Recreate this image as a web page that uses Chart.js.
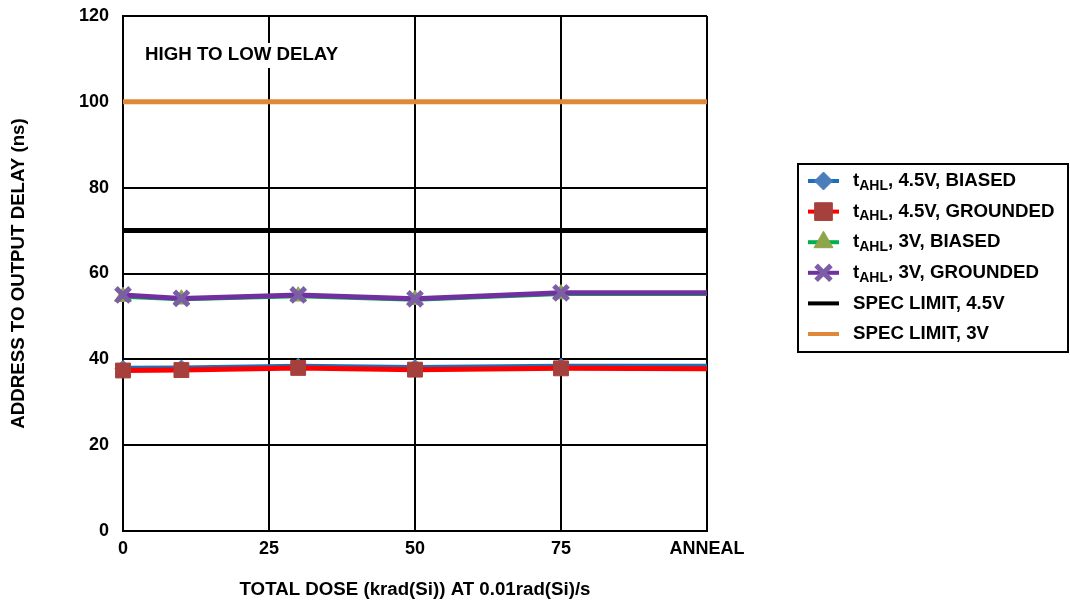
<!DOCTYPE html>
<html><head><meta charset="utf-8">
<script src="https://cdn.jsdelivr.net/npm/chart.js@4/dist/chart.umd.min.js"></script>
<style>html,body{margin:0;padding:0;background:#fff}#wrap{width:1070px;height:602px;position:relative}</style>
</head><body><div id="wrap"><canvas id="c" width="1070" height="602"></canvas></div>
<script>
const doses = [0, 10, 30, 50, 75, 100];
const xTickValues = [0, 25, 50, 75, 100];
const xTickLabels = ['0', '25', '50', '75', 'ANNEAL'];
const biased45 = [37.9, 38.0, 38.4, 38.1, 38.4, 38.4];
const grounded45 = [37.4, 37.5, 38.0, 37.6, 37.9, 37.8];
const biased3 = [54.6, 54.0, 54.7, 53.9, 55.2, 55.2];
const grounded3 = [55.0, 54.2, 55.0, 54.1, 55.5, 55.5];
const specX = [0, 100];
const specLimit45 = [70, 70];
const specLimit3 = [100, 100];
const seriesPrefix = ['t', 't', 't', 't', '', ''];
const seriesSub = ['AHL', 'AHL', 'AHL', 'AHL', '', ''];
const seriesNames = [', 4.5V, BIASED', ', 4.5V, GROUNDED', ', 3V, BIASED', ', 3V, GROUNDED', 'SPEC LIMIT, 4.5V', 'SPEC LIMIT, 3V'];
const annotationText = 'HIGH TO LOW DELAY';
const xTitle = 'TOTAL DOSE (krad(Si)) AT 0.01rad(Si)/s';
const yTitle = 'ADDRESS TO OUTPUT DELAY (ns)';

const FONT = '"Liberation Sans", Arial, sans-serif';
const FS = 18;
const FT = 18.7;
const pts = (ys) => doses.map((d, i) => ({x: d, y: ys[i]}));
const spec = (ys) => specX.map((d, i) => ({x: d, y: ys[i]}));
const radii = (r) => doses.map((d, i) => i === doses.length - 1 ? 0 : r);

const datasets = [
  {label: 'b45', data: pts(biased45), borderColor: '#1F6EB8', borderWidth: 5, pointStyle: 'rectRot', pointRadius: radii(8), pointBackgroundColor: '#4A7EBB', pointBorderColor: '#4A7EBB', pointBorderWidth: 1, order: 4, mk: {style: 'rectRot', r: 9, fill: '#4A7EBB', bw: 1}},
  {label: 'g45', data: pts(grounded45), borderColor: '#FF0000', borderWidth: 5, pointStyle: 'rect', pointRadius: radii(10.5), pointBackgroundColor: '#A5403C', pointBorderColor: '#A5403C', pointBorderWidth: 1, order: 3, mk: {style: 'rect', r: 12.5, fill: '#A5403C', bw: 1}},
  {label: 'b3', data: pts(biased3), borderColor: '#00B050', borderWidth: 4, pointStyle: 'triangle', pointRadius: radii(9.5), pointBackgroundColor: '#8DA64B', pointBorderColor: '#8DA64B', pointBorderWidth: 1, order: 2, mk: {style: 'triangle', r: 11, fill: '#8DA64B', bw: 1}},
  {label: 'g3', data: pts(grounded3), borderColor: '#7030A0', borderWidth: 5, pointStyle: 'crossRot', pointRadius: radii(10), pointBackgroundColor: '#7B5EA5', pointBorderColor: '#7B5EA5', pointBorderWidth: 5, order: 1, mk: {style: 'crossRot', r: 10.5, fill: '#7B5EA5', bw: 5}},
  {label: 's45', data: spec(specLimit45), borderColor: '#000000', borderWidth: 5, pointRadius: 0, order: 6},
  {label: 's3', data: spec(specLimit3), borderColor: '#E0873A', borderWidth: 5, pointRadius: 0, order: 5}
];
datasets.forEach(d => { d.clip = false; d.tension = 0; d.fill = false; });

const extras = {
  id: 'extras',
  beforeDatasetsDraw(chart) {
    const ctx = chart.ctx;
    ctx.save();
    ctx.font = 'bold ' + FT + 'px ' + FONT;
    const w = ctx.measureText(annotationText).width;
    ctx.fillStyle = '#fff';
    ctx.fillRect(137, 43, w + 16, 25);
    ctx.fillStyle = '#000';
    ctx.textBaseline = 'middle';
    ctx.textAlign = 'left';
    ctx.fillText(annotationText, 145, 55);
    ctx.restore();
  },
  afterDraw(chart) {
    const ctx = chart.ctx;
    ctx.save();
    ctx.textBaseline = 'middle';
    ctx.textAlign = 'left';
    ctx.lineWidth = 2;
    ctx.strokeStyle = '#000';
    ctx.strokeRect(798, 164, 270, 188);
    const y0 = 181, dy = 30.6;
    datasets.forEach((ds, i) => {
      const y = y0 + i * dy;
      ctx.beginPath();
      ctx.strokeStyle = ds.borderColor;
      ctx.lineWidth = 4;
      ctx.moveTo(808, y); ctx.lineTo(839, y); ctx.stroke();
      if (ds.mk) {
        const m = ds.mk;
        ctx.fillStyle = m.fill; ctx.strokeStyle = m.fill;
        ctx.lineWidth = m.bw;
        Chart.helpers.drawPoint(ctx, {pointStyle: m.style, radius: m.r, borderWidth: m.bw, rotation: 0}, 823.5, y);
      }
      ctx.fillStyle = '#000';
      let x = 853;
      ctx.font = 'bold ' + FT + 'px ' + FONT;
      if (seriesPrefix[i]) {
        ctx.fillText(seriesPrefix[i], x, y);
        x += ctx.measureText(seriesPrefix[i]).width;
        ctx.font = 'bold 14px ' + FONT;
        ctx.fillText(seriesSub[i], x, y + 5);
        x += ctx.measureText(seriesSub[i]).width;
        ctx.font = 'bold ' + FT + 'px ' + FONT;
      }
      ctx.fillText(seriesNames[i], x, y);
    });
    ctx.restore();
  }
};

new Chart(document.getElementById('c'), {
  type: 'line',
  data: {datasets},
  plugins: [extras],
  options: {
    responsive: false,
    animation: false,
    events: [],
    layout: {padding: {top: 16, right: 363, left: 0, bottom: 0}},
    plugins: {legend: {display: false}, tooltip: {enabled: false}},
    scales: {
      x: {
        type: 'linear', min: 0, max: 100,
        afterBuildTicks: (s) => { s.ticks = xTickValues.map(v => ({value: v})); },
        afterFit: (s) => { s.height = 71; },
        ticks: {
          callback: (v) => xTickLabels[xTickValues.indexOf(v)],
          font: {family: FONT, size: FS, weight: 'bold'}, color: '#000', padding: 7, maxRotation: 0, autoSkip: false
        },
        grid: {color: '#000', lineWidth: 2, drawTicks: false},
        border: {color: '#000', width: 2},
        title: {display: true, text: xTitle, font: {family: FONT, size: FT, weight: 'bold'}, color: '#000', padding: {top: 0, bottom: 1}}
      },
      y: {
        min: 0, max: 120,
        afterFit: (s) => { s.width = 123; s.paddingTop = 0; s.paddingBottom = 0; },
        ticks: {stepSize: 20, font: {family: FONT, size: FS, weight: 'bold'}, color: '#000', padding: 14},
        grid: {color: '#000', lineWidth: 2, drawTicks: false},
        border: {color: '#000', width: 2},
        title: {display: true, text: yTitle, font: {family: FONT, size: FT, weight: 'bold'}, color: '#000', padding: {top: 8, bottom: 0}}
      }
    }
  }
});
</script></body></html>
